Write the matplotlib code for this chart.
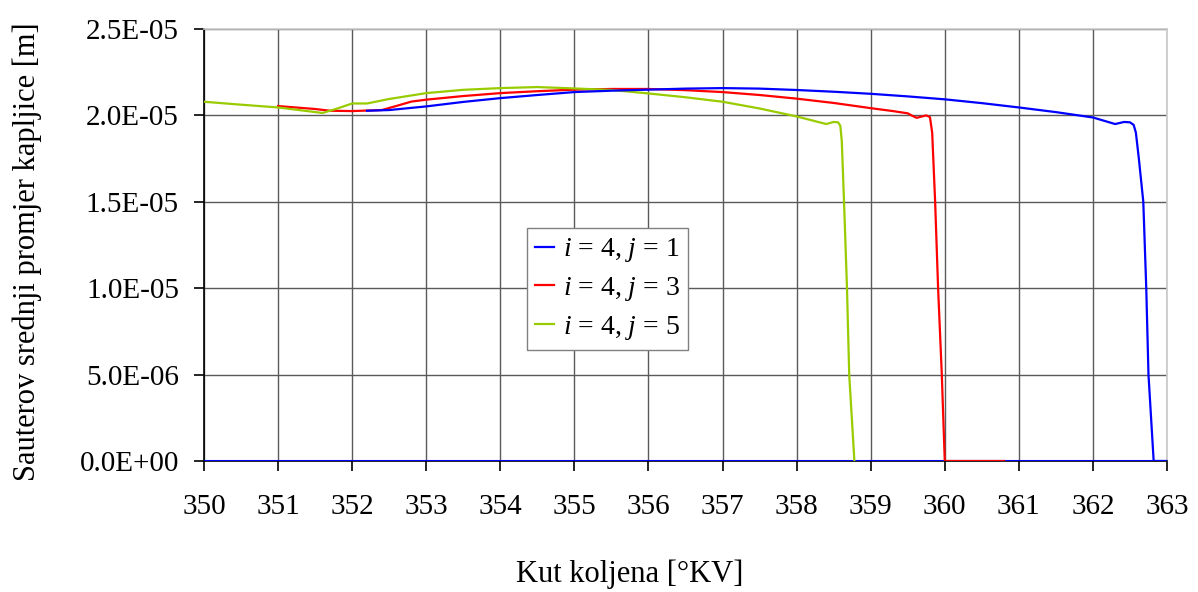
import matplotlib
matplotlib.use("Agg")
import matplotlib.pyplot as plt
from matplotlib.ticker import FuncFormatter, MultipleLocator

# ---- data (x in °KV, y in 1e-5 m) ----
blue_x = [352.2, 352.5, 353.0, 353.5, 354.0, 354.5, 355.0, 355.5, 356.0, 356.5, 357.0,
          357.5, 358.0, 358.5, 359.0, 359.5, 360.0, 360.5, 361.0, 361.5, 362.0, 362.3,
          362.42, 362.5, 362.55, 362.58, 362.62, 362.68, 362.72, 362.75, 362.82, 363.0]
blue_y = [2.027, 2.031, 2.052, 2.078, 2.100, 2.118, 2.135, 2.143, 2.149, 2.155, 2.158,
          2.155, 2.147, 2.137, 2.125, 2.110, 2.093, 2.071, 2.046, 2.019, 1.988, 1.950,
          1.962, 1.960, 1.945, 1.900, 1.750, 1.50, 1.00, 0.50, 0.00, 0.00]
blue_zero_x = [350.0, 363.0]
blue_zero_y = [0.0, 0.0]

red_x = [351.0, 351.5, 351.7, 352.0, 352.4, 352.6, 352.8, 353.0, 353.5, 354.0, 354.5,
         355.0, 355.5, 356.0, 356.5, 357.0, 357.5, 358.0, 358.5, 359.0, 359.3, 359.5,
         359.57, 359.62, 359.75, 359.80, 359.83, 359.87, 359.91, 359.96, 360.0, 360.8]
red_y = [2.054, 2.037, 2.027, 2.025, 2.031, 2.055, 2.080, 2.091, 2.112, 2.129, 2.140,
         2.149, 2.153, 2.153, 2.146, 2.135, 2.118, 2.097, 2.072, 2.042, 2.025, 2.012,
         1.996, 1.986, 2.000, 1.990, 1.900, 1.50, 1.00, 0.50, 0.00, 0.00]

green_x = [350.0, 350.5, 351.0, 351.3, 351.6, 351.8, 352.0, 352.2, 352.5, 353.0, 353.5,
           354.0, 354.5, 355.0, 355.5, 356.0, 356.5, 357.0, 357.5, 358.0, 358.4, 358.5,
           358.56, 358.59, 358.61, 358.64, 358.68, 358.71, 358.78]
green_y = [2.079, 2.062, 2.046, 2.030, 2.014, 2.040, 2.069, 2.069, 2.095, 2.129, 2.148,
           2.158, 2.164, 2.156, 2.147, 2.127, 2.105, 2.079, 2.040, 1.994, 1.950, 1.962,
           1.960, 1.940, 1.85, 1.50, 1.00, 0.50, 0.00]

labels = [r"$i$ = 4, $j$ = 1", r"$i$ = 4, $j$ = 3", r"$i$ = 4, $j$ = 5"]
colors = ["#0000FF", "#FF0000", "#99CC00"]
x_label = "Kut koljena [°KV]"
y_label = "Sauterov srednji promjer kapljice [m]"

scale = 1e-5

plt.rcParams["font.family"] = ["Liberation Serif", "DejaVu Serif"]
plt.rcParams["mathtext.fontset"] = "custom"
plt.rcParams["mathtext.rm"] = "Liberation Serif"
plt.rcParams["mathtext.it"] = "Liberation Serif:italic"

fig = plt.figure(figsize=(11.98, 5.92), dpi=100)
ax = fig.add_axes([204 / 1198, 1 - 461 / 592, (1167 - 204) / 1198, (461 - 29) / 592])

ax.plot(blue_zero_x, [v * scale for v in blue_zero_y], color=colors[0], lw=1.5, zorder=3)
ax.plot(red_x, [v * scale for v in red_y], color=colors[1], lw=1.6, label=labels[1], zorder=4)
ax.plot(green_x, [v * scale for v in green_y], color=colors[2], lw=1.6, label=labels[2], zorder=4)
ax.plot(blue_x, [v * scale for v in blue_y], color=colors[0], lw=1.6, label=labels[0], zorder=5)

ax.set_xlim(350, 363)
ax.set_ylim(0, 2.5e-5)
ax.xaxis.set_major_locator(MultipleLocator(1))
ax.yaxis.set_major_locator(MultipleLocator(0.5e-5))

def yfmt(v, pos):
    s = "%.1E" % v
    mant, exp = s.split("E")
    sign = exp[0]
    e = int(exp[1:])
    return "%sE%s%02d" % (mant, sign, e)

ax.yaxis.set_major_formatter(FuncFormatter(yfmt))

ax.grid(True, color="#5a5a5a", lw=1.0)
ax.tick_params(axis="both", labelsize=21, length=7, width=1.2, direction="out", color="black")
ax.tick_params(axis="x", pad=17)
ax.tick_params(axis="y", pad=11)

for side in ["top", "right"]:
    ax.spines[side].set_color("#c8c8c8")
    ax.spines[side].set_linewidth(1.2)
for side in ["left", "bottom"]:
    ax.spines[side].set_color("black")
    ax.spines[side].set_linewidth(1.2)

ax.set_xlabel(x_label, fontsize=22)
ax.set_ylabel(y_label, fontsize=22)
ax.xaxis.set_label_coords((630 - 204) / 963, (461 - 574) / 432, transform=ax.transAxes)
ax.yaxis.set_label_coords((27 - 204) / 963, (461 - 252) / 432, transform=ax.transAxes)
ax.xaxis.label.set_va("center")
ax.yaxis.label.set_va("center")

h, l = ax.get_legend_handles_labels()
order = [2, 0, 1]
leg = ax.legend([h[i] for i in order], [l[i] for i in order], loc="upper left",
                bbox_to_anchor=(0.335, 0.539), fontsize=20, frameon=True,
                fancybox=False, edgecolor="#808080", framealpha=1,
                handlelength=0.7, handletextpad=0.3, labelspacing=0.38,
                borderpad=0.3, borderaxespad=0)
leg.get_frame().set_linewidth(1.0)

fig.savefig("out.png", dpi=100)
